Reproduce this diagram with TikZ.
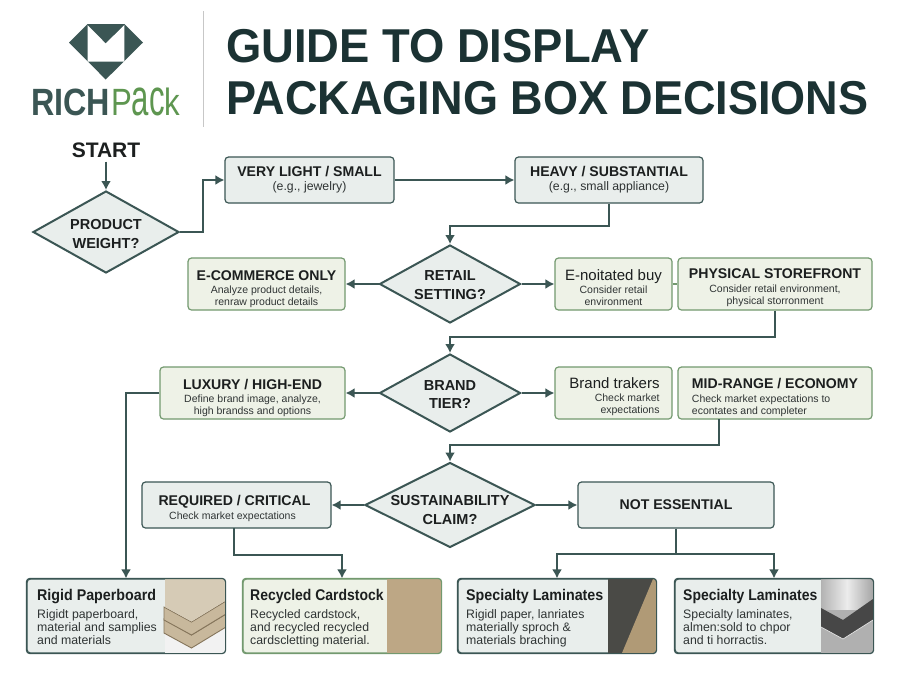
\documentclass[tikz,border=0pt]{standalone}
\usepackage{fontspec}
\setmainfont{Liberation Sans}
\usetikzlibrary{arrows.meta,shapes.geometric,calc}
\definecolor{dk}{HTML}{3B5654}
\definecolor{ttl}{HTML}{1B3233}
\definecolor{grn}{HTML}{73996F}
\definecolor{lgrn}{HTML}{5E9650}
\definecolor{gfill}{HTML}{EEF2E7}
\definecolor{bfill}{HTML}{E9EEEC}
\definecolor{ink}{HTML}{1C1F1F}
\definecolor{sub}{HTML}{2F3434}
\definecolor{kraft}{HTML}{BDA785}
\definecolor{board}{HTML}{C8B89C}
\definecolor{boardlt}{HTML}{D6CBB6}
\definecolor{boarddk}{HTML}{85755B}
\definecolor{slate}{HTML}{4A4A46}
\definecolor{tan}{HTML}{B09A76}
\tikzset{
  conn/.style={draw=dk,line width=1.9pt},
  arr/.style={conn,-{Latex[length=9pt,width=10pt]}},
  grayb/.style={rectangle,rounded corners=3.5pt,draw=dk,fill=bfill,line width=1.2pt,inner sep=0pt,align=center},
  greenb/.style={rectangle,rounded corners=3.5pt,draw=grn,fill=gfill,line width=1.2pt,inner sep=0pt,align=center},
  dec/.style={diamond,draw=dk,fill=bfill,line width=2pt,inner sep=0pt},
  dectxt/.style={align=center,font=\bfseries\fontsize{14.5}{18.5}\selectfont,text=ink},
  cardhd/.style={anchor=base west,inner sep=0pt,text=ink,font=\bfseries\fontsize{15.5}{16}\selectfont},
  cardtxt/.style={anchor=north west,inner sep=0pt,align=left,text=sub,font=\fontsize{12.3}{13}\selectfont},
  ttlt/.style={inner sep=0pt,anchor=base west,text=ttl,font=\bfseries\fontsize{47.5}{47.5}\selectfont},
}
\newcommand{\hd}[2][0]{{\bfseries\fontsize{14.1}{17}\selectfont\color{ink}\rule{0pt}{#1pt}#2}}
\newcommand{\hdl}[2][0]{{\fontsize{15}{17}\selectfont\color{ink}\rule{0pt}{#1pt}#2}}
\newcommand{\sm}[1]{{\fontsize{10.5}{11}\selectfont\color{sub}#1}}
\newcommand{\smb}[1]{{\fontsize{12.3}{13}\selectfont\color{sub}#1}}
\newcommand{\bx}[7]{\node[#2,minimum width={(#5-#3)*1pt},minimum height={(#6-#4)*1pt}] (#1) at ({(#3+#5)/2},{(#4+#6)/2}) {#7};}
\newcommand{\dm}[7]{\node[dec,minimum width={2*#4*1pt},minimum height={2*#5*1pt},label={[dectxt,yshift=#7pt]center:#6}] (#1) at (#2,#3) {};}
\begin{document}
\begin{tikzpicture}[x=1pt,y=-1pt]
\useasboundingbox (0,0) rectangle (901,673);
\fill[white] (0,0) rectangle (901,673);
% logo
\fill[dk] (69,42.5) -- (87.5,24) -- (124.5,24) -- (143,42.5) -- (105.7,79.5) -- cycle;
\fill[white] (87.5,25) -- (105.7,43.5) -- (124.3,25) -- (124.3,61.5) -- (87.5,61.5) -- cycle;
\node[inner sep=0pt,anchor=base west,font=\fontsize{38}{38}\selectfont] (logo) at (31,115) {\textcolor{dk}{\bfseries\scalebox{0.85}[1]{RICH}}\kern1pt\textcolor{lgrn}{\scalebox{0.82}[1]{P}\scalebox{0.82}[1.35]{ac}\scalebox{0.82}[1]{k}}};
\draw[black!22,line width=1pt] (203,11) -- (203,127);
% title
\node[ttlt] (t1) at (226,62) {\scalebox{0.955}[1]{GUIDE TO DISPLAY}};
\node[ttlt] (t2) at (226,114) {\scalebox{0.948}[1]{PACKAGING BOX DECISIONS}};
% start
\node[font=\bfseries\fontsize{21}{21}\selectfont,text=ink,inner sep=0pt] (st) at (106,150) {START};
% decisions
\dm{pw}{106}{232}{73}{41}{PRODUCT\\WEIGHT?}{-2}
\dm{rs}{450}{284}{70.5}{39}{RETAIL\\SETTING?}{-1}
\dm{bt}{450}{393}{70.5}{39}{BRAND\\TIER?}{-1.5}
\dm{sc}{450}{505}{85}{42.5}{SUSTAINABILITY\\CLAIM?}{-5}
% boxes
\bx{vl}{grayb}{225}{157}{394}{203}{\hd{VERY LIGHT / SMALL}\\[2pt]\smb{(e.g., jewelry)}}
\bx{hv}{grayb}{515}{157}{703}{203}{\hd{HEAVY / SUBSTANTIAL}\\[2pt]\smb{(e.g., small appliance)}}
\bx{ec}{greenb}{188}{258}{345}{310}{\hd[20]{E-COMMERCE ONLY}\\[1pt]\sm{Analyze product details,}\\\sm{renraw product details}}
\bx{en}{greenb}{555}{258}{672}{310}{\hdl[19]{E-noitated buy}\\[1pt]\sm{Consider retail}\\\sm{environment}}
\bx{pf}{greenb}{678}{258}{872}{310}{\hd[17]{PHYSICAL STOREFRONT}\\[2pt]\sm{Consider retail environment,}\\\sm{physical storronment}}
\bx{lx}{greenb}{160}{367}{345}{419}{\hd[20]{LUXURY / HIGH-END}\\[1pt]\sm{Define brand image, analyze,}\\\sm{high brandss and options}}
\bx{bk}{greenb,align=right}{555}{367}{672}{419}{\hdl[19]{\hspace*{12pt}Brand trakers\hspace*{10pt}}\\[1pt]\sm{Check market\hspace*{10pt}}\\\sm{expectations\hspace*{10pt}}}
\bx{mr}{greenb,align=left}{678}{367}{872}{419}{\hd[19]{MID-RANGE / ECONOMY}\\[2pt]\sm{Check market expectations to}\\\sm{econtates and completer}}
\bx{rq}{grayb}{142}{482}{331}{528}{\hd[18]{REQUIRED / CRITICAL\hspace*{4pt}}\\[2pt]\sm{Check market expectations\hspace*{8pt}}}
\bx{ne}{grayb}{578}{482}{774}{528}{\hd{NOT ESSENTIAL}}
% cards
\bx{rp}{grayb}{27}{579}{225}{653}{}
\bx{rc}{greenb}{243}{579}{441}{653}{}
\bx{sa}{grayb}{458}{579}{656}{653}{}
\bx{sb}{grayb}{675}{579}{873}{653}{}
% card images
\begin{scope}
\clip[rounded corners=3.5pt] (rp.north west) rectangle (rp.south east);
\fill[gray!10] (165,579) rectangle (225,653);
\fill[board,draw=boarddk,line width=0.9pt] (164,619) -- (191.5,635) -- (226,614) -- (226,627) -- (191.5,648) -- (164,633) -- cycle;
\fill[board,draw=boarddk,line width=0.9pt] (164,607) -- (191.5,622) -- (226,601) -- (226,614) -- (191.5,635) -- (164,620) -- cycle;
\fill[boardlt] (165,579) -- (225,579) -- (225,601) -- (191.5,621.5) -- (165,607) -- cycle;
\end{scope}
\begin{scope}
\clip[rounded corners=3.5pt] (rc.north west) rectangle (rc.south east);
\fill[kraft] (387,579) rectangle (441,653);
\end{scope}
\begin{scope}
\clip[rounded corners=3.5pt] (sa.north west) rectangle (sa.south east);
\fill[slate] (608,579) rectangle (656,653);
\fill[tan] (653,579) -- (656,579) -- (656,653) -- (622,653) -- cycle;
\end{scope}
\begin{scope}
\clip[rounded corners=3.5pt] (sb.north west) rectangle (sb.south east);
\shade[left color=gray!60,right color=gray!70,middle color=gray!15] (821,579) rectangle (873,620);
\fill[gray!62] (821,610) rectangle (873,653);
\fill[black!72] (821,608) -- (843,620) -- (873,599) -- (873,620) -- (843,639) -- (821,627) -- cycle;
\draw[gray!20,line width=0.7pt] (821,627) -- (843,639) -- (873,620);
\end{scope}
\draw[dk,line width=1.2pt,rounded corners=3.5pt] (rp.north west) rectangle (rp.south east);
\draw[grn,line width=1.2pt,rounded corners=3.5pt] (rc.north west) rectangle (rc.south east);
\draw[dk,line width=1.2pt,rounded corners=3.5pt] (sa.north west) rectangle (sa.south east);
\draw[dk,line width=1.2pt,rounded corners=3.5pt] (sb.north west) rectangle (sb.south east);
% card text
\node[cardhd] (h1) at (37,600) {\scalebox{0.92}[1]{Rigid Paperboard}};
\node[cardtxt] (b1) at (37,609) {Rigidt paperboard,\\material and samplies\\and materials};
\node[cardhd] (h2) at (250,600) {\scalebox{0.9}[1]{Recycled Cardstock}};
\node[cardtxt] (b2) at (250,609) {Recycled cardstock,\\and recycled recycled\\cardscletting material.};
\node[cardhd] (h3) at (466,600) {\scalebox{0.92}[1]{Specialty Laminates}};
\node[cardtxt] (b3) at (466,609) {Rigidl paper, lanriates\\materially sproch \&\\materials braching};
\node[cardhd] (h4) at (683,600) {\scalebox{0.9}[1]{Specialty Laminates}};
\node[cardtxt] (b4) at (683,609) {Specialty laminates,\\almen:sold to chpor\\and ti horractis.};
% connectors
\draw[arr,shorten <=4pt] (st.south) -- (pw.north);
\draw[arr] (pw.east) -- ++(23,0) |- (vl.west);
\draw[arr] (vl.east) -- (hv.west);
\draw[arr] (hv.south) -- ++(0,22) -| (rs.north);
\draw[arr] (rs.west) -- (ec.east);
\draw[arr] (rs.east) -- (en.west);
\draw[conn,draw=grn] (en.east) -- (pf.west);
\draw[arr] (pf.south) -- ++(0,26) -| (bt.north);
\draw[arr] (bt.west) -- (lx.east);
\draw[arr] (bt.east) -- (bk.west);
\coordinate (mrout) at (719,419);
\draw[arr] (mrout) -- ++(0,26) -| (sc.north);
\draw[arr] (sc.west) -- (rq.east);
\draw[arr] (sc.east) -- (ne.west);
\draw[arr] (lx.west) -| (rp.north);
\coordinate (rqout) at (234,528);
\draw[arr] (rqout) -- ++(0,27) -| (rc.north);
\draw[arr] (ne.south) -- ++(0,25) -| (sa.north);
\draw[arr] (ne.south) -- ++(0,25) -| (sb.north);
\end{tikzpicture}
\end{document}
